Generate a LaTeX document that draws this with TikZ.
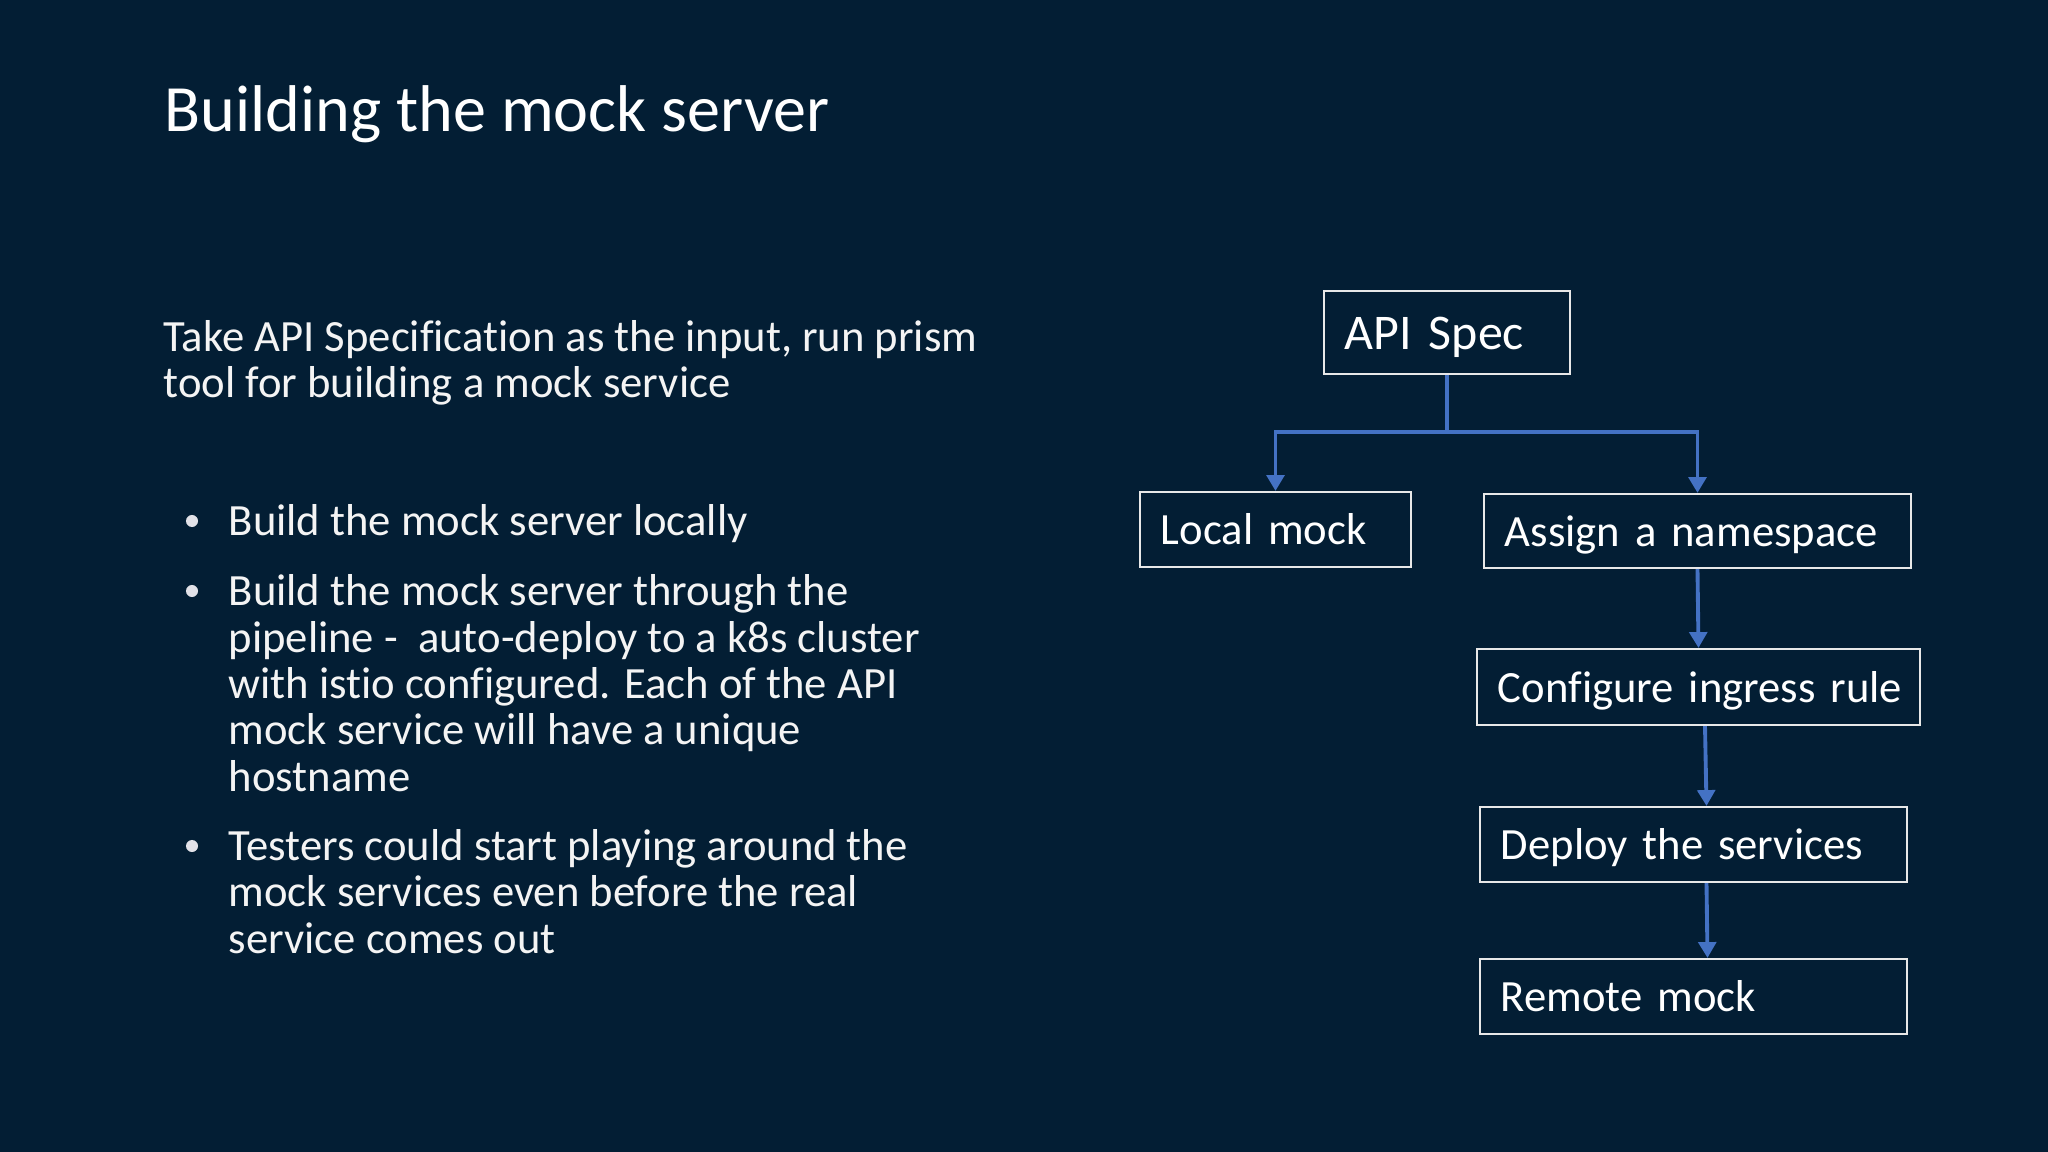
\documentclass[tikz,border=0pt]{standalone}
\usepackage{fontspec}
\setmainfont{Carlito}[Ligatures=NoCommon]
\usetikzlibrary{arrows.meta}
\definecolor{bg}{HTML}{031E34}
\definecolor{arrowblue}{HTML}{4472C4}
\definecolor{boxline}{HTML}{E8E8E8}
\definecolor{txt}{HTML}{F4F4F4}
\definecolor{bulletgray}{HTML}{E2E2E8}
\newcommand{\boxlbl}[1]{\makebox[\linewidth][l]{#1}}
\begin{document}
\begin{tikzpicture}[x=0.01cm,y=-0.01cm,
  titletext/.style={anchor=base west, inner sep=0, text=white, font=\fontsize{18.8}{22}\selectfont},
  body/.style={anchor=base west, inner sep=0, text=txt, align=left, font=\fontsize{12.7}{13.17}\selectfont},
  dot/.style={circle, fill=bulletgray, inner sep=0, minimum size=0.12cm},
  box/.style={draw=boxline, line width=0.6pt, inner xsep=0.21cm, inner ysep=0, align=left, text=white,
    font=\fontsize{12.7}{14}\selectfont, text height=12pt, text depth=3.2pt},
  conn/.style={draw=arrowblue, line width=1.1pt},
  arr/.style={conn, -{Triangle[width=5pt,length=4.5pt]}}
]
\fill[bg] (0,0) rectangle (2048,1152);
\useasboundingbox (0,0) rectangle (2048,1152);

\node[titletext] (title) at (164,132) {Building the mock server};

% base anchor of a multi-line node = baseline of its last line
\node[body] (para) at (163,398) {Take API Specification as the input, run prism\\tool for building a mock service};

\node[dot] (d1) at (192,521) {};
\node[dot] (d2) at (192,591) {};
\node[dot] (d3) at (192,846) {};
\node[body] (b1) at (228,536) {Build the mock server locally};
\node[body] (b2) at (228,791) {Build the mock server through the\\pipeline -\ \ auto-deploy to a k8s cluster\\with istio configured. Each of the API\\mock service will have a unique\\hostname};
\node[body] (b3) at (228,953) {Testers could start playing around the\\mock services even before the real\\service comes out};

\node[box, text width=2.04cm, minimum height=0.83cm, font=\fontsize{14.2}{16}\selectfont, text height=13pt, text depth=3.6pt] (api) at (1447,332.5) {\boxlbl{API Spec}};
\node[box, text width=2.29cm, minimum height=0.75cm] (loc) at (1275.5,529.5) {\boxlbl{Local mock}};
\node[box, text width=3.85cm, minimum height=0.74cm] (asg) at (1697.5,531) {\boxlbl{Assign a namespace}};
\node[box, text width=4.01cm, minimum height=0.76cm] (cfg) at (1698.5,687) {\boxlbl{Configure ingress rule}};
\node[box, text width=3.85cm, minimum height=0.75cm] (dep) at (1693.5,844.5) {\boxlbl{Deploy the services}};
\node[box, text width=3.85cm, minimum height=0.75cm] (rem) at (1693.5,996.5) {\boxlbl{Remote mock}};

\coordinate (j) at (1447,432);
\draw[conn] (api.south) -- (j);
\draw[arr] (j) -| (loc.north);
\draw[arr] (j) -| (asg.north);
\draw[arr] (asg.south) -- (cfg.north);
\draw[arr] ([xshift=0.065cm]cfg.south) -- ([xshift=0.13cm]dep.north);
\draw[arr] ([xshift=0.13cm]dep.south) -- ([xshift=0.14cm]rem.north);
\end{tikzpicture}
\end{document}
